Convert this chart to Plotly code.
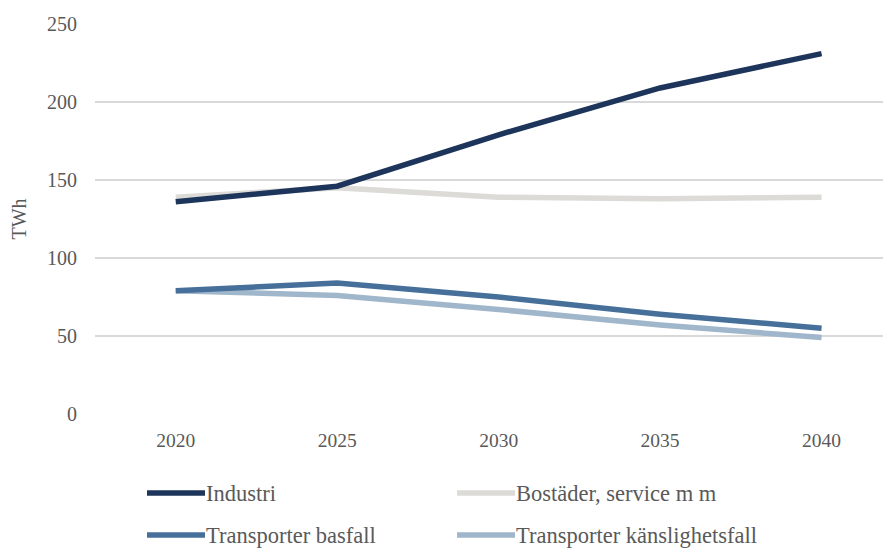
import plotly.graph_objects as go

years = ["2020", "2025", "2030", "2035", "2040"]
industri = [136, 146, 179, 209, 231]
bostader = [139, 145, 139, 138, 139]
transp_bas = [79, 84, 75, 64, 55]
transp_kans = [79, 76, 67, 57, 49]

names = ["Industri", "Bostäder, service m m", "Transporter basfall", "Transporter känslighetsfall"]
series = [industri, bostader, transp_bas, transp_kans]
colors = ["#1d355a", "#dcdbd8", "#46709a", "#a0b6ca"]

OFF = 8  # page body margin
W, H = 891 - OFF, 549 - OFF
L, R, T, B = 95 - OFF, 0, 24 - OFF, 135
FONT = "Liberation Serif"
TXT = "#595959"

fig = go.Figure()
for i in [3, 2, 1, 0]:
    fig.add_trace(go.Scatter(x=years, y=series[i], mode="lines", name=names[i],
                             line=dict(color=colors[i], width=5.5), showlegend=False))

fig.update_layout(
    width=W, height=H,
    margin=dict(l=L, r=R, t=T, b=B),
    plot_bgcolor="white", paper_bgcolor="white",
    font=dict(family=FONT, color=TXT, size=19),
    xaxis=dict(type="category", range=[-0.5, 4.43], showgrid=False, zeroline=False,
               showline=False, ticks="", ticklabelstandoff=12,
               tickfont=dict(size=19.5, color=TXT)),
    yaxis=dict(range=[0, 250], dtick=50, showgrid=True, gridcolor="#d9d9d9", gridwidth=1.5,
               zeroline=False, showline=False, ticks="", ticklabelstandoff=17,
               tickfont=dict(size=20, color=TXT),
               title=dict(text="TWh", font=dict(size=20, color=TXT), standoff=22)),
)

pw = W - L - R
ph = H - T - B
def px2x(px):
    return (px - OFF - L) / pw
def py2y(py):
    return (H - B - (py - OFF)) / ph

legend_pos = [(147, 493), (457, 493), (147, 535), (457, 535)]
for i, (lx, ly) in enumerate(legend_pos):
    fig.add_shape(type="line", xref="paper", yref="paper",
                  x0=px2x(lx), x1=px2x(lx + 58), y0=py2y(ly), y1=py2y(ly),
                  line=dict(color=colors[i], width=5.5))
    fig.add_annotation(xref="paper", yref="paper", x=px2x(lx + 57), y=py2y(ly),
                       text=names[i], showarrow=False, xanchor="left", yanchor="middle",
                       font=dict(size=22.5, color=TXT, family=FONT))

fig.write_html("out.html")
